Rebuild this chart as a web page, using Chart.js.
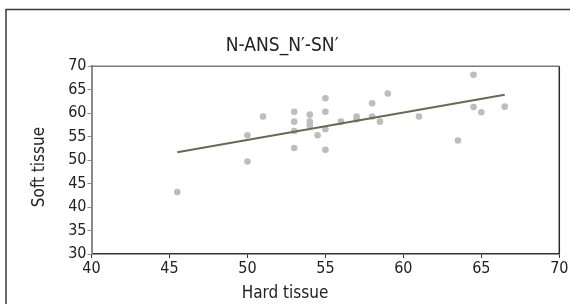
<!DOCTYPE html>
<html>
<head>
<meta charset="utf-8">
<script src="https://cdn.jsdelivr.net/npm/chart.js@4/dist/chart.umd.min.js"></script>
<style>
  html, body { margin: 0; padding: 0; background: #fff; }
  #wrap { width: 570px; height: 304px; position: relative; }
</style>
</head>
<body>
<div id="wrap"><canvas id="c" width="570" height="304"></canvas></div>
<script>
// ---- Data ----
const hardTissue = [45.5, 50, 50, 51, 53, 53, 53, 53, 54, 54, 54, 54.5, 55, 55, 55, 55, 56, 57, 57, 58, 58, 58.5, 59, 61, 63.5, 64.5, 64.5, 65, 66.5];
const softTissue = [43.2, 49.7, 55.3, 59.3, 60.3, 58.2, 56.2, 52.6, 59.7, 58.2, 57.4, 55.3, 63.2, 60.3, 56.6, 52.2, 58.2, 59.3, 58.7, 62.1, 59.3, 58.2, 64.2, 59.3, 54.2, 68.2, 61.3, 60.2, 61.4];
const fitLineX = [45.5, 66.5];
const fitLineY = [51.7, 63.95];
const xTickValues = [40, 45, 50, 55, 60, 65, 70];
const yTickValues = [30, 35, 40, 45, 50, 55, 60, 65, 70];
const chartTitle = "N-ANS_N\u2032-SN\u2032";
const xTitle = "Hard tissue";
const yTitle = "Soft tissue";

const FONT = "'Liberation Sans Narrow', 'Arial Narrow', 'DejaVu Sans Condensed', sans-serif";

const scatterData = hardTissue.map((x, i) => ({ x: x, y: softTissue[i] }));
const lineData = fitLineX.map((x, i) => ({ x: x, y: fitLineY[i] }));

const framePlugin = {
  id: 'frame',
  beforeDraw(chart) {
    const ctx = chart.ctx;
    ctx.save();
    ctx.fillStyle = '#fff';
    ctx.fillRect(0, 0, chart.width, chart.height);
    ctx.strokeStyle = '#3a3a3a';
    ctx.lineWidth = 1.5;
    ctx.strokeRect(6, 9.5, 700, 500);
    ctx.restore();
  },
  afterDatasetsDraw(chart) {
    const { ctx, chartArea: a } = chart;
    ctx.save();
    ctx.lineWidth = 1.5;
    ctx.strokeStyle = '#7a7a7a';
    ctx.beginPath();
    ctx.moveTo(a.left, a.top);
    ctx.lineTo(a.right, a.top);
    ctx.stroke();
    ctx.strokeStyle = '#2a2a2a';
    ctx.beginPath();
    ctx.moveTo(a.right, a.top);
    ctx.lineTo(a.right, a.bottom);
    ctx.stroke();
    ctx.restore();
  },
  afterDraw(chart) {
    // axis titles (placed as in the reference, off the plot centre)
    const ctx = chart.ctx;
    ctx.save();
    ctx.fillStyle = '#222';
    ctx.font = "17px " + FONT;
    ctx.textAlign = 'center';
    ctx.textBaseline = 'middle';
    ctx.fillText(xTitle, 285, 293.5);
    ctx.translate(40, 167);
    ctx.rotate(-Math.PI / 2);
    ctx.fillText(yTitle, 0, 0);
    ctx.restore();
  }
};

new Chart(document.getElementById('c'), {
  type: 'scatter',
  data: {
    datasets: [
      {
        label: 'Observed',
        data: scatterData,
        backgroundColor: '#bdbdbd',
        borderColor: '#bdbdbd',
        pointRadius: 3.3,
        pointHoverRadius: 3.3,
        borderWidth: 0,
        order: 2
      },
      {
        label: 'Fit',
        type: 'line',
        data: lineData,
        showLine: true,
        borderColor: '#6b6853',
        borderWidth: 2,
        pointRadius: 0,
        fill: false,
        order: 1
      }
    ]
  },
  options: {
    responsive: false,
    animation: false,
    devicePixelRatio: 1,
    layout: { padding: { left: 5, right: 10.7, top: 0, bottom: 0 } },
    plugins: {
      legend: { display: false },
      tooltip: { enabled: false },
      title: {
        display: true,
        text: chartTitle,
        color: '#222',
        font: { family: FONT, size: 19, weight: 'normal', lineHeight: 1.2 },
        padding: { top: 34.6, bottom: 8.9 }
      }
    },
    scales: {
      x: {
        type: 'linear',
        min: 40, max: 70,
        afterBuildTicks: s => { s.ticks = xTickValues.map(v => ({ value: v })); },
        afterFit: s => { s.height = 50; },
        border: { display: true, color: '#333', width: 1.5 },
        grid: { drawOnChartArea: false, drawTicks: true, tickLength: 4, color: '#333', tickWidth: 1 },
        ticks: { color: '#222', padding: 1, maxRotation: 0, autoSkip: false, font: { family: FONT, size: 16 } },
        title: { display: false, text: xTitle }
      },
      y: {
        type: 'linear',
        min: 30, max: 70,
        afterBuildTicks: s => { s.ticks = yTickValues.map(v => ({ value: v })); },
        afterFit: s => { s.width = 86.5; },
        border: { display: true, color: '#8a8a8a', width: 2 },
        grid: { drawOnChartArea: false, drawTicks: true, tickLength: 4, color: '#8a8a8a', tickWidth: 1 },
        ticks: { color: '#222', padding: 1, autoSkip: false, font: { family: FONT, size: 16 } },
        title: { display: false, text: yTitle }
      }
    }
  },
  plugins: [framePlugin]
});
</script>
</body>
</html>
